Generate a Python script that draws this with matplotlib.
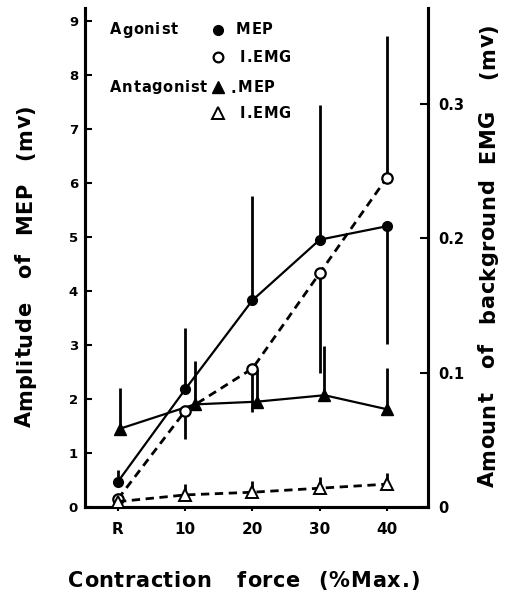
import matplotlib
matplotlib.use("Agg")
import matplotlib.pyplot as plt
import numpy as np

# contraction force levels (R = rest)
force = [0, 10, 20, 30, 40]
force_labels = ["R", "10", "20", "30", "40"]
force_tri = [0.3, 11.4, 20.6, 30.7, 40]   # antagonist MEP points sit a bit to the right

# agonist MEP (mv, left axis)
ag_mep = [0.47, 2.18, 3.83, 4.95, 5.2]
ag_mep_up = [0.22, 1.14, 1.92, 2.49, 0]
ag_mep_dn = [0, 0, 0, 0, 2.18]

# agonist I.EMG (mv, right axis)
ag_emg = [0.006, 0.0715, 0.103, 0.174, 0.245]
ag_emg_up = [0, 0, 0, 0, 0.105]
ag_emg_dn = [0, 0.021, 0.032, 0.074, 0]

# antagonist MEP (mv, left axis)
an_mep = [1.45, 1.9, 1.95, 2.07, 1.81]
an_mep_up = [0.76, 0.81, 0.6, 0.92, 0.76]

# antagonist I.EMG (mv, right axis)
an_emg = [0.004, 0.009, 0.011, 0.014, 0.017]
an_emg_up = [0, 0.008, 0.008, 0.008, 0.008]

left_ticks = [0, 1, 2, 3, 4, 5, 6, 7, 8, 9]
right_ticks = [0, 0.1, 0.2, 0.3]
right_labels = ["0", "0.1", "0.2", "0.3"]

scale = 24.9   # left units per right unit
ymax = 9.24

W, H = 509, 593
fig = plt.figure(figsize=(W / 100, H / 100), dpi=100)
ax = fig.add_axes([0.167, 0.145, 0.674, 0.8415])
ax2 = ax.twinx()

ax.set_xlim(-4.9, 46.1)
ax.set_ylim(0, ymax)
ax2.set_ylim(0, ymax / scale)

lw = 1.6
elw = 2.0

# error bars: plain vertical strokes, no caps
ax.errorbar(force, ag_mep, yerr=[ag_mep_dn, ag_mep_up], fmt="none", ecolor="k", elinewidth=elw, capsize=0)
ax.errorbar(force_tri, an_mep, yerr=[np.zeros(5), an_mep_up], fmt="none", ecolor="k", elinewidth=elw, capsize=0)
ax2.errorbar(force, ag_emg, yerr=[ag_emg_dn, ag_emg_up], fmt="none", ecolor="k", elinewidth=elw, capsize=0)
ax2.errorbar(force, an_emg, yerr=[np.zeros(5), an_emg_up], fmt="none", ecolor="k", elinewidth=elw, capsize=0)

ax.plot(force, ag_mep, "-", color="k", lw=lw, marker="o", ms=7, mfc="k", mec="k", zorder=5)
ax.plot(force_tri, an_mep, "-", color="k", lw=lw, marker="^", ms=8, mfc="k", mec="k", zorder=5)
ax2.plot(force, ag_emg, "--", color="k", lw=2.0, dashes=(3, 2), marker="o", ms=7.5, mfc="white", mec="k", mew=1.6, zorder=5)
ax2.plot(force, an_emg, "--", color="k", lw=2.0, dashes=(3, 2), marker="^", ms=8.5, mfc="white", mec="k", mew=1.4, zorder=5)

for a in (ax, ax2):
    for s in a.spines.values():
        s.set_linewidth(2.2)
    a.spines["top"].set_visible(False)

ax.set_xticks(force)
ax.set_xticklabels(force_labels, fontsize=11, fontweight="bold")
ax.tick_params(axis="x", direction="out", length=3, width=1.5, pad=8)
ax.set_yticks(left_ticks)
ax.set_yticklabels([str(t) for t in left_ticks], fontsize=9.5, fontweight="bold")
ax.tick_params(axis="y", direction="in", length=5, width=1.5, pad=5)
ax2.set_yticks(right_ticks)
ax2.set_yticklabels(right_labels, fontsize=10.5, fontweight="bold")
ax2.tick_params(axis="y", direction="in", length=6, width=1.5, pad=7)

renderer = fig.canvas.get_renderer()


def char_widths(word, fs):
    ws = []
    for ch in word:
        t = fig.text(0, 0, ch, fontsize=fs, fontweight="bold")
        ws.append(t.get_window_extent(renderer).width)
        t.remove()
    return ws


def word_h(word, x0, yc, fs, track):
    # letters laid left to right from pixel column x0, with extra tracking
    cur = x0
    for ch, w in zip(word, char_widths(word, fs)):
        fig.text(cur / W, 1 - yc / H, ch, fontsize=fs, fontweight="bold", ha="left", va="center")
        cur += w + track


def word_v(word, ybot, xc, fs, track):
    # same, rotated 90 degrees, reading upward from pixel row ybot
    cur = ybot
    for ch, w in zip(word, char_widths(word, fs)):
        fig.text(xc / W, 1 - cur / H, ch, fontsize=fs, fontweight="bold", rotation=90,
                 ha="center", va="bottom")
        cur -= w + track


# axis titles (word starts)
fs_lab = 15
tr = 0.5
word_v("Amplitude", 427, 25, fs_lab, tr)
word_v("of", 278, 25, fs_lab, tr)
word_v("MEP", 234, 25, fs_lab, tr)
word_v("(mv)", 160, 25, fs_lab, tr)

word_v("Amount", 487, 488, fs_lab, tr)
word_v("of", 368, 488, fs_lab, tr)
word_v("background", 323, 488, fs_lab, tr)
word_v("EMG", 163, 488, fs_lab, tr)
word_v("(mv)", 79, 488, fs_lab, tr)

word_h("Contraction", 68, 581, fs_lab, tr)
word_h("force", 237, 581, fs_lab, tr)
word_h("(%Max.)", 318, 581, fs_lab, 1.0)

# key
fs_key = 10.5
tk = 0.7
word_h("Agonist", 110, 30, fs_key, tk)
word_h("Antagonist", 110, 87, fs_key, tk)
word_h("MEP", 236, 30, fs_key, tk)
word_h("I.EMG", 240, 57, fs_key, tk)
word_h(".", 230, 88, fs_key, tk)
word_h("MEP", 238, 87, fs_key, tk)
word_h("I.EMG", 240, 113, fs_key, tk)

key_marks = [
    (30, dict(marker="o", ms=7, mfc="k", mec="k")),
    (57, dict(marker="o", ms=7, mfc="white", mec="k", mew=1.6)),
    (87, dict(marker="^", ms=8, mfc="k", mec="k")),
    (113, dict(marker="^", ms=8, mfc="white", mec="k", mew=1.4)),
]
for py, kw in key_marks:
    fig.lines.append(plt.Line2D([218 / W], [1 - py / H], transform=fig.transFigure, **kw))

fig.savefig("out.png", dpi=100)
